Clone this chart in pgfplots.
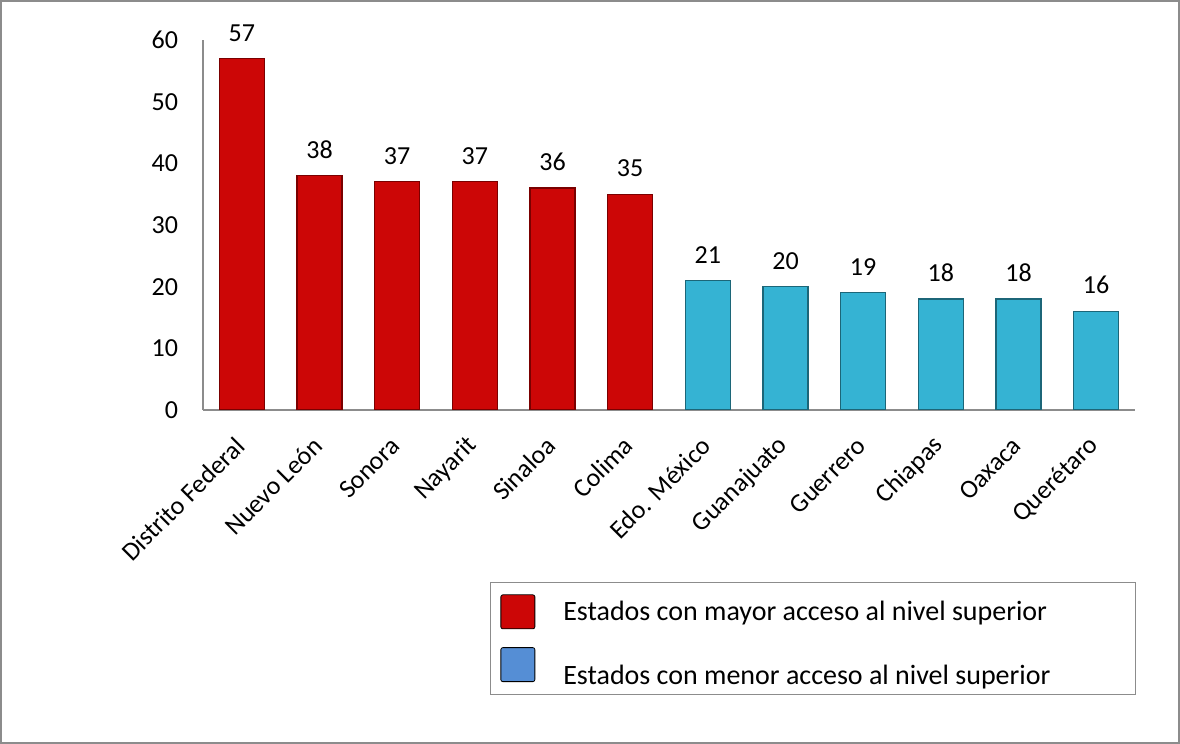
\documentclass[border=0pt]{standalone}
\usepackage{pgfplots}
\pgfplotsset{compat=1.18}
\usepackage{fontspec}
\setmainfont{Carlito}

\definecolor{barred}{HTML}{CC0606}
\definecolor{edgered}{HTML}{7A0000}
\definecolor{barcyan}{HTML}{35B3D3}
\definecolor{edgecyan}{HTML}{1C6678}
\definecolor{legblue}{HTML}{558ED5}
\definecolor{axgray}{HTML}{8C8C8C}

\begin{document}
\begin{tikzpicture}
\useasboundingbox (0,0) rectangle (590pt,372pt);
\draw[axgray, line width=0.8pt] (0.5pt,0.5pt) rectangle (589.5pt,371.5pt);
\begin{axis}[
  at={(101.5pt,167pt)}, anchor=south west,
  scale only axis, width=466pt, height=185pt,
  xmin=-0.5, xmax=11.5, ymin=0, ymax=60,
  ytick={0,10,...,60},
  xtick={0,...,11},
  xticklabels={Distrito Federal, Nuevo León, Sonora, Nayarit, Sinaloa, Colima,
    Edo. México, Guanajuato, Guerrero, Chiapas, Oaxaca, Querétaro},
  axis x line*=bottom, axis y line*=left,
  axis line style={axgray, line width=0.8pt, -},
  major tick length=0pt,
  tick label style={font=\fontsize{13}{15}\selectfont},
  /pgf/number format/assume math mode=true,
  yticklabel style={xshift=-9pt},
  xticklabel style={xshift=0pt, yshift=-15pt, rotate=45, anchor=east, inner sep=1pt},
  ybar, bar width=22.5pt, bar shift=0pt,
  nodes near coords,
  every node near coord/.append style={font=\fontsize{13}{15}\selectfont, yshift=5pt},
]
\addplot[fill=barred, draw=edgered, line width=0.6pt] coordinates
  {(0,57) (1,38) (2,37) (3,37) (4,36) (5,35)};
\addplot[fill=barcyan, draw=edgecyan, line width=0.6pt] coordinates
  {(6,21) (7,20) (8,19) (9,18) (10,18) (11,16)};
\end{axis}
\begin{axis}[
  at={(101.5pt,167pt)}, anchor=south west,
  scale only axis, width=466pt, height=185pt,
  xmin=-0.5, xmax=11.5, ymin=0, ymax=60,
  hide axis,
  legend cell align=left,
  legend style={at={(0.308,-0.465)}, anchor=north west, draw=axgray,
    font=\fontsize{14}{16}\selectfont, inner xsep=5pt, inner ysep=6pt,
    row sep=9pt, /tikz/every odd column/.append style={column sep=12pt}},
  legend image code/.code={\fill[#1, rounded corners=1pt] (0pt,-8.5pt) rectangle (17pt,8.5pt);},
]
\addlegendimage{fill=barred}
\addlegendentry{\makebox[279pt][l]{Estados con mayor acceso al nivel superior}}
\addlegendimage{fill=legblue}
\addlegendentry{\makebox[279pt][l]{\raisebox{-6pt}[\height][\depth]{Estados con menor acceso al nivel superior}}}
\end{axis}
\end{tikzpicture}
\end{document}
